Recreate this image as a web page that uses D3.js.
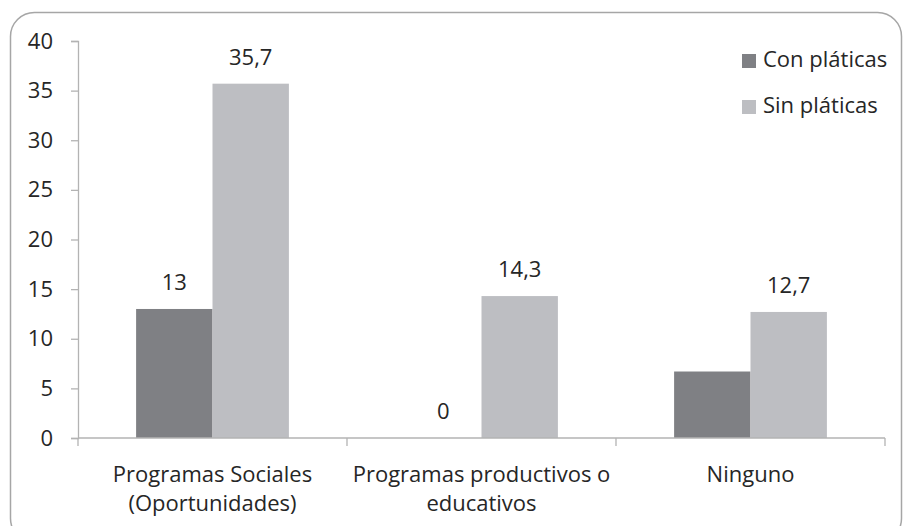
<!DOCTYPE html>
<html>
<head>
<meta charset="utf-8">
<script src="https://cdn.jsdelivr.net/npm/d3@7"></script>
<style>
  body { margin: 0; background: #fff; }
  svg text { font-family: "Open Sans", sans-serif; fill: #262626; }
</style>
</head>
<body>
<svg id="chart" width="903" height="526"></svg>
<script>
// categories and the two series
var categories = [["Programas Sociales", "(Oportunidades)"], ["Programas productivos o", "educativos"], ["Ninguno"]];
var seriesNames = ["Con pláticas", "Sin pláticas"];
var conPlaticas = [13, 0, 6.7];
var sinPlaticas = [35.7, 14.3, 12.7];
// which bars carry a value label (the dark Ninguno bar has none)
var conLabeled = [true, true, false];
var sinLabeled = [true, true, true];
var yTicks = [0, 5, 10, 15, 20, 25, 30, 35, 40];

var colors = ["#7f8084", "#bdbec2"];
var fontSize = 22;
var svg = d3.select("#chart");

// outer frame
svg.append("rect")
  .attr("x", 10.5).attr("y", 12.5)
  .attr("width", 891).attr("height", 530)
  .attr("rx", 24).attr("ry", 24)
  .attr("fill", "none")
  .attr("stroke", "#a6a6a6")
  .attr("stroke-width", 1.5);

var plotLeft = 78, plotRight = 885, plotTop = 41, plotBottom = 438;

var x0 = d3.scaleBand()
  .domain(d3.range(categories.length))
  .range([plotLeft, plotRight]);

var pad = x0.bandwidth() * 0.216;
var x1 = d3.scaleBand()
  .domain(seriesNames)
  .range([pad, x0.bandwidth() - pad]);

var y = d3.scaleLinear().domain([0, 40]).range([plotBottom, plotTop]);

var fmt = function (v) { return String(v).replace(".", ","); };

var rows = categories.map(function (c, i) {
  return [
    {s: seriesNames[0], v: conPlaticas[i], show: conLabeled[i], c: colors[0]},
    {s: seriesNames[1], v: sinPlaticas[i], show: sinLabeled[i], c: colors[1]}
  ];
});

// y axis
var yAxis = svg.append("g")
  .attr("transform", "translate(" + plotLeft + ",0)")
  .call(d3.axisLeft(y).tickValues(yTicks).tickSize(7).tickPadding(18));
yAxis.select(".domain").attr("stroke", "#b3b3b3").attr("stroke-width", 1.3);
yAxis.selectAll(".tick line").attr("stroke", "#b3b3b3").attr("stroke-width", 1.3);
yAxis.selectAll(".tick text")
  .attr("font-size", fontSize)
  .attr("font-family", "Open Sans, sans-serif")
  .attr("fill", "#262626");

// bars
var groups = svg.selectAll(".grp").data(rows).enter().append("g")
  .attr("transform", function (d, i) { return "translate(" + x0(i) + ",0)"; });

groups.selectAll("rect").data(function (d) { return d; }).enter().append("rect")
  .attr("x", function (d) { return x1(d.s); })
  .attr("width", x1.bandwidth())
  .attr("y", function (d) { return y(d.v); })
  .attr("height", function (d) { return y(0) - y(d.v); })
  .attr("fill", function (d) { return d.c; });

groups.selectAll(".val").data(function (d) { return d.filter(function (e) { return e.show; }); })
  .enter().append("text")
  .attr("x", function (d) { return x1(d.s) + x1.bandwidth() / 2; })
  .attr("y", function (d) { return y(d.v) - 19; })
  .attr("text-anchor", "middle")
  .attr("font-size", fontSize)
  .text(function (d) { return fmt(d.v); });

// x axis: baseline and category boundary ticks
svg.append("line")
  .attr("x1", plotLeft).attr("x2", plotRight)
  .attr("y1", plotBottom).attr("y2", plotBottom)
  .attr("stroke", "#b3b3b3").attr("stroke-width", 1.3);

var bounds = d3.range(categories.length).map(function (i) { return x0(i); }).concat([plotRight]);
svg.selectAll(".xt").data(bounds).enter().append("line")
  .attr("x1", function (d) { return d; }).attr("x2", function (d) { return d; })
  .attr("y1", plotBottom).attr("y2", plotBottom + 8)
  .attr("stroke", "#b3b3b3").attr("stroke-width", 1.3);

var catText = svg.selectAll(".cat").data(categories).enter().append("text")
  .attr("text-anchor", "middle")
  .attr("font-size", fontSize)
  .attr("x", function (d, i) { return x0(i) + x0.bandwidth() / 2; })
  .attr("y", 482);
catText.selectAll("tspan").data(function (d) { return d; }).enter().append("tspan")
  .attr("x", function () { return this.parentNode.getAttribute("x"); })
  .attr("dy", function (d, i) { return i === 0 ? 0 : 28.5; })
  .text(function (d) { return d; });

// legend
var legend = svg.selectAll(".leg").data(seriesNames).enter().append("g")
  .attr("transform", function (d, i) { return "translate(742," + (54 + i * 46) + ")"; });
legend.append("rect")
  .attr("width", 14).attr("height", 14)
  .attr("fill", function (d, i) { return colors[i]; });
legend.append("text")
  .attr("x", 21).attr("y", 13)
  .attr("font-size", fontSize)
  .text(function (d) { return d; });
</script>
</body>
</html>
